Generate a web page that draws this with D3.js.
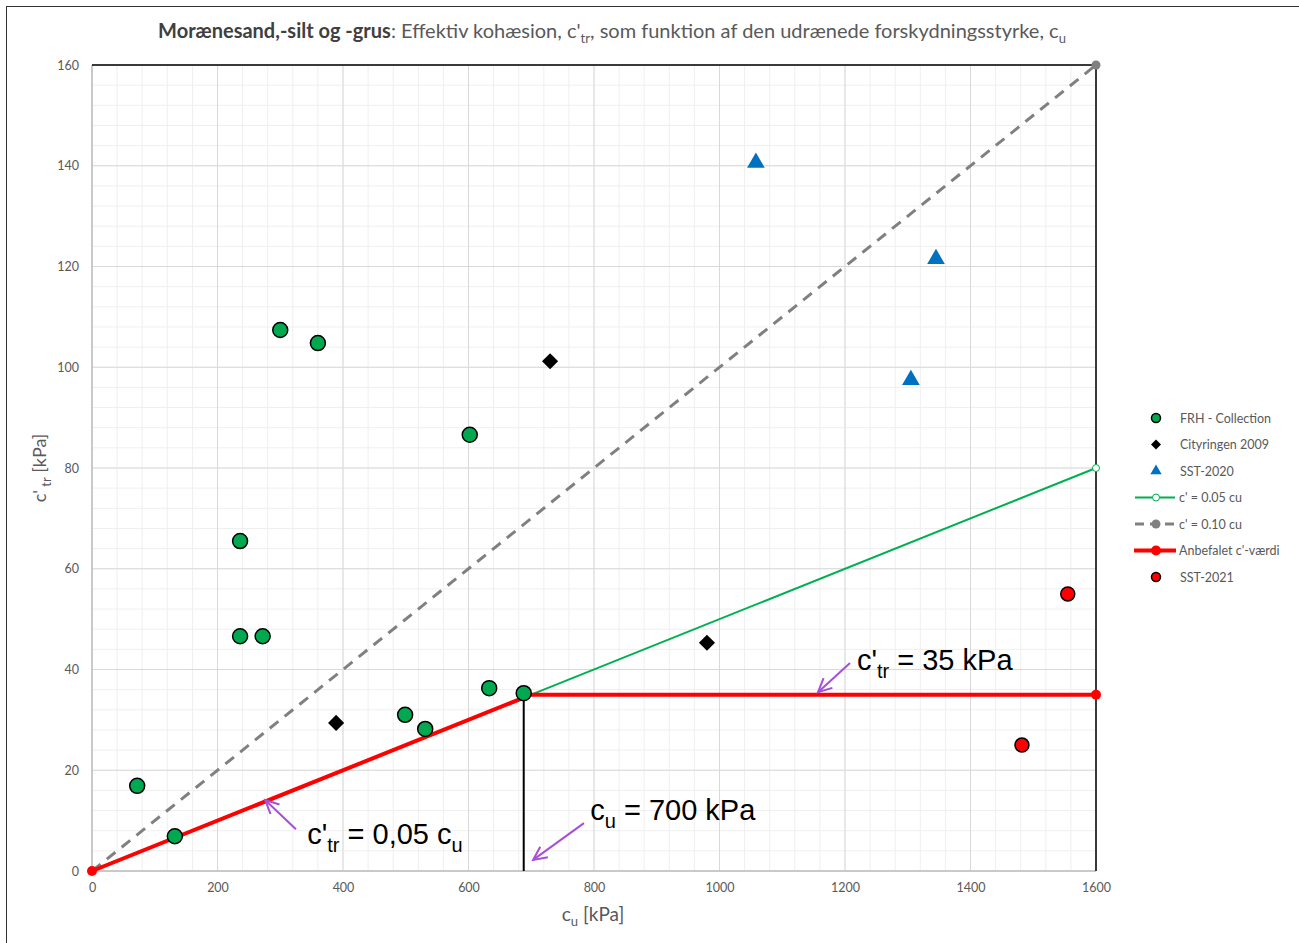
<!DOCTYPE html>
<html>
<head>
<meta charset="utf-8">
<script src="https://cdn.jsdelivr.net/npm/d3@7"></script>
<style>
  body { margin: 0; background: #fff; }
  text { font-family: Lato, "Open Sans", sans-serif; }
</style>
</head>
<body>
<div id="chart"></div>
<script>
// data
var frhCu  = [72, 132, 236, 236, 272, 300, 360, 602, 633, 499, 531, 688];
var frhC   = [16.9, 6.9, 65.5, 46.6, 46.6, 107.4, 104.8, 86.6, 36.3, 31, 28.2, 35.3];
var cityCu = [389, 730, 980];
var cityC  = [29.4, 101.2, 45.3];
var sst20Cu = [1058, 1345, 1305];
var sst20C  = [140.6, 121.5, 97.5];
var sst21Cu = [1555, 1482];
var sst21C  = [55, 25];
var line05Cu = [700, 1600];
var line05C  = [35, 80];
var line10Cu = [0, 1600];
var line10C  = [0, 160];
var anbCu = [0, 700, 1600];
var anbC  = [0, 35, 35];
var cuMark = 688;
var xTicks = [0, 200, 400, 600, 800, 1000, 1200, 1400, 1600];
var yTicks = [0, 20, 40, 60, 80, 100, 120, 140, 160];

var svgWidth = 1299, svgHeight = 943;
var margin = {top: 65, right: 203, bottom: 72, left: 92};

var svg = d3.select("#chart").append("svg")
    .attr("width", svgWidth)
    .attr("height", svgHeight);

// outer frame
svg.append("rect")
    .attr("x", 6.5).attr("y", 6.5)
    .attr("width", svgWidth + 10).attr("height", svgHeight + 10)
    .attr("fill", "none").attr("stroke", "#333").attr("stroke-width", 1);

var x = d3.scaleLinear().domain([0, 1600]).range([margin.left, svgWidth - margin.right]);
var y = d3.scaleLinear().domain([0, 160]).range([svgHeight - margin.bottom, margin.top]);

// minor grid
var g = svg.append("g");
g.selectAll(".mx").data(d3.range(0, 1601, 40)).enter().append("line")
    .attr("x1", d => x(d)).attr("x2", d => x(d))
    .attr("y1", y(0)).attr("y2", y(160))
    .attr("stroke", "#efefef").attr("stroke-width", 1);
g.selectAll(".my").data(d3.range(0, 161, 4)).enter().append("line")
    .attr("y1", d => y(d)).attr("y2", d => y(d))
    .attr("x1", x(0)).attr("x2", x(1600))
    .attr("stroke", "#efefef").attr("stroke-width", 1);
// major grid
g.selectAll(".Mx").data(xTicks).enter().append("line")
    .attr("x1", d => x(d)).attr("x2", d => x(d))
    .attr("y1", y(0)).attr("y2", y(160))
    .attr("stroke", "#d9d9d9").attr("stroke-width", 1);
g.selectAll(".My").data(yTicks).enter().append("line")
    .attr("y1", d => y(d)).attr("y2", d => y(d))
    .attr("x1", x(0)).attr("x2", x(1600))
    .attr("stroke", "#d9d9d9").attr("stroke-width", 1);

// axes frame
svg.append("line").attr("x1", x(0)).attr("x2", x(0)).attr("y1", y(0)).attr("y2", y(160))
    .attr("stroke", "#bfbfbf").attr("stroke-width", 1.5);
svg.append("line").attr("x1", x(0)).attr("x2", x(1600)).attr("y1", y(0)).attr("y2", y(0))
    .attr("stroke", "#bfbfbf").attr("stroke-width", 1.5);
svg.append("line").attr("x1", x(0)).attr("x2", x(1600)).attr("y1", y(160)).attr("y2", y(160))
    .attr("stroke", "#000").attr("stroke-width", 1.5);
svg.append("line").attr("x1", x(1600)).attr("x2", x(1600)).attr("y1", y(0)).attr("y2", y(160))
    .attr("stroke", "#000").attr("stroke-width", 1.5);

// axes via d3, ticks only as labels
var xAxis = svg.append("g").attr("transform", `translate(0, ${y(0)})`)
    .call(d3.axisBottom(x).tickValues(xTicks).tickFormat(d3.format("d")).tickSize(0).tickPadding(12));
var yAxis = svg.append("g").attr("transform", `translate(${x(0)}, 0)`)
    .call(d3.axisLeft(y).tickValues(yTicks).tickFormat(d3.format("d")).tickSize(0).tickPadding(13));
[xAxis, yAxis].forEach(function(a) {
    a.select(".domain").remove();
    a.selectAll("text").attr("fill", "#595959").style("font-size", "12.5px")
        .style("font-family", "Lato, 'Open Sans', sans-serif");
});

function pts(cu, c) { return cu.map((d, i) => [d, c[i]]); }
var line = d3.line().x(d => x(d[0])).y(d => y(d[1]));

// series lines
svg.append("path").datum(pts(line10Cu, line10C)).attr("d", line)
    .attr("fill", "none").attr("stroke", "#808080").attr("stroke-width", 3)
    .attr("stroke-dasharray", "11,8");
svg.append("circle").attr("cx", x(1600)).attr("cy", y(160)).attr("r", 4.5).attr("fill", "#808080");

svg.append("path").datum(pts(line05Cu, line05C)).attr("d", line)
    .attr("fill", "none").attr("stroke", "#00b050").attr("stroke-width", 2);
svg.append("circle").attr("cx", x(1600)).attr("cy", y(80)).attr("r", 3.5)
    .attr("fill", "#fff").attr("stroke", "#00b050").attr("stroke-width", 1);

svg.append("path").datum(pts(anbCu, anbC)).attr("d", line)
    .attr("fill", "none").attr("stroke", "#ff0000").attr("stroke-width", 4);
svg.selectAll(".anbm").data([pts(anbCu, anbC)[0], pts(anbCu, anbC)[2]]).enter().append("circle")
    .attr("cx", d => x(d[0])).attr("cy", d => y(d[1])).attr("r", 5).attr("fill", "#ff0000");

// vertical cu line
svg.append("line").attr("x1", x(cuMark)).attr("x2", x(cuMark))
    .attr("y1", y(0)).attr("y2", y(35))
    .attr("stroke", "#000").attr("stroke-width", 2);

// scatter series
svg.selectAll(".frh").data(pts(frhCu, frhC)).enter().append("circle")
    .attr("cx", d => x(d[0])).attr("cy", d => y(d[1])).attr("r", 7.5)
    .attr("fill", "#00a84f").attr("stroke", "#000").attr("stroke-width", 1.5);

svg.selectAll(".city").data(pts(cityCu, cityC)).enter().append("path")
    .attr("d", d3.symbol(d3.symbolSquare, 130))
    .attr("transform", d => `translate(${x(d[0])},${y(d[1])}) rotate(45)`)
    .attr("fill", "#000");

svg.selectAll(".sst20").data(pts(sst20Cu, sst20C)).enter().append("path")
    .attr("d", d3.symbol(d3.symbolTriangle, 135))
    .attr("transform", d => `translate(${x(d[0])},${y(d[1])})`)
    .attr("fill", "#0070c0");

svg.selectAll(".sst21").data(pts(sst21Cu, sst21C)).enter().append("circle")
    .attr("cx", d => x(d[0])).attr("cy", d => y(d[1])).attr("r", 7)
    .attr("fill", "#ff0000").attr("stroke", "#000").attr("stroke-width", 1.5);

// annotations with purple arrows
var purple = "#a64fd6";
function arrow(x1, y1, x2, y2) {
    var px1 = x(x1), py1 = y(y1), px2 = x(x2), py2 = y(y2);
    var ang = Math.atan2(py2 - py1, px2 - px1);
    var L = 15, a = 0.45;
    svg.append("line").attr("x1", px1).attr("y1", py1).attr("x2", px2).attr("y2", py2)
        .attr("stroke", purple).attr("stroke-width", 2);
    svg.append("path")
        .attr("d", `M${px2 - L * Math.cos(ang - a)},${py2 - L * Math.sin(ang - a)} L${px2},${py2} L${px2 - L * Math.cos(ang + a)},${py2 - L * Math.sin(ang + a)}`)
        .attr("fill", "none").attr("stroke", purple).attr("stroke-width", 2);
}
arrow(325, 8.3, 276, 14.1);
arrow(784, 9.5, 703, 2.2);
arrow(1208, 41.3, 1157, 35.5);

function bigLabel(cu, c, parts) {
    var t = svg.append("text").attr("x", x(cu)).attr("y", y(c))
        .style("font-family", "'Liberation Sans', Arial, sans-serif")
        .style("font-size", "29px").attr("fill", "#000");
    parts.forEach(function(p) {
        var s = t.append("tspan").text(p[0]);
        if (p[1] === "sub") s.attr("dy", 8).style("font-size", "20px");
        if (p[1] === "up") s.attr("dy", -8);
    });
}
bigLabel(343, 5.3, [["c'"], ["tr", "sub"], [" = 0,05 c", "up"], ["u", "sub"]]);
bigLabel(794, 10.2, [["c"], ["u", "sub"], [" = 700 kPa", "up"]]);
bigLabel(1219, 40, [["c'"], ["tr", "sub"], [" = 35 kPa", "up"]]);

// title
var title = svg.append("text").attr("x", 612).attr("y", 38).attr("text-anchor", "middle")
    .style("font-size", "20px").attr("fill", "#595959");
title.append("tspan").text("Morænesand,-silt og -grus").style("font-weight", "bold").attr("fill", "#404040");
title.append("tspan").text(": Effektiv kohæsion, c'");
title.append("tspan").text("tr").attr("dy", 5).style("font-size", "13px");
title.append("tspan").text(",  som funktion af den udrænede forskydningsstyrke, c").attr("dy", -5);
title.append("tspan").text("u").attr("dy", 5).style("font-size", "13px");

// axis titles
var xl = svg.append("text").attr("x", 593).attr("y", 921).attr("text-anchor", "middle")
    .style("font-size", "19px").attr("fill", "#595959");
xl.append("tspan").text("c");
xl.append("tspan").text("u").attr("dy", 5).style("font-size", "13px");
xl.append("tspan").text(" [kPa]").attr("dy", -5);

var yl = svg.append("text").attr("transform", "translate(46, 468) rotate(-90)")
    .attr("text-anchor", "middle").style("font-size", "18px").attr("fill", "#595959");
yl.append("tspan").text("c'");
yl.append("tspan").text(" tr").attr("dy", 5).style("font-size", "13px");
yl.append("tspan").text(" [kPa]").attr("dy", -5);

// legend
var legNames = ["FRH - Collection", "Cityringen 2009", "SST-2020", "c' = 0.05 cu", "c' = 0.10 cu", "Anbefalet c'-værdi", "SST-2021"];
var legY = d3.scaleLinear().domain([0, 6]).range([418, 577]);
var leg = svg.append("g");
legNames.forEach(function(name, i) {
    var yy = legY(i), mx = 1156;
    if (i === 0 || i === 6) {
        leg.append("circle").attr("cx", mx).attr("cy", yy).attr("r", 4.5)
            .attr("fill", i === 0 ? "#00a84f" : "#ff0000").attr("stroke", "#000").attr("stroke-width", 1.5);
    } else if (i === 1) {
        leg.append("path").attr("d", d3.symbol(d3.symbolSquare, 50))
            .attr("transform", `translate(${mx},${yy}) rotate(45)`).attr("fill", "#000");
    } else if (i === 2) {
        leg.append("path").attr("d", d3.symbol(d3.symbolTriangle, 55))
            .attr("transform", `translate(${mx},${yy})`).attr("fill", "#0070c0");
    } else if (i === 3) {
        leg.append("line").attr("x1", 1135).attr("x2", 1175).attr("y1", yy).attr("y2", yy)
            .attr("stroke", "#00b050").attr("stroke-width", 2);
        leg.append("circle").attr("cx", mx).attr("cy", yy).attr("r", 3.5)
            .attr("fill", "#fff").attr("stroke", "#00b050").attr("stroke-width", 1);
    } else if (i === 4) {
        leg.append("line").attr("x1", 1135).attr("x2", 1175).attr("y1", yy).attr("y2", yy)
            .attr("stroke", "#808080").attr("stroke-width", 3).attr("stroke-dasharray", "9,6");
        leg.append("circle").attr("cx", mx).attr("cy", yy).attr("r", 4.5).attr("fill", "#808080");
    } else if (i === 5) {
        leg.append("line").attr("x1", 1134).attr("x2", 1176).attr("y1", yy).attr("y2", yy)
            .attr("stroke", "#ff0000").attr("stroke-width", 4);
        leg.append("circle").attr("cx", mx).attr("cy", yy).attr("r", 5).attr("fill", "#ff0000");
    }
    leg.append("text").attr("x", i >= 3 && i <= 5 ? 1179 : 1180).attr("y", yy + 4.5)
        .style("font-size", "12.5px").attr("fill", "#595959").text(name);
});
</script>
</body>
</html>
